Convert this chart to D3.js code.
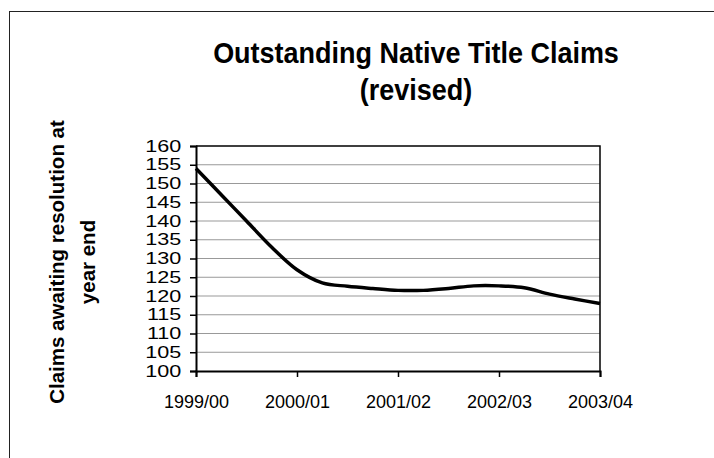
<!DOCTYPE html>
<html>
<head>
<meta charset="utf-8">
<script src="https://cdn.jsdelivr.net/npm/d3@7/dist/d3.min.js"></script>
<style>
  body { margin: 0; background: #fff; }
  svg text { font-family: "Liberation Sans", Arial, sans-serif; fill: #000; }
</style>
</head>
<body>
<div id="chart"></div>
<script>
// year labels on the category axis
const years = ["1999/00", "2000/01", "2001/02", "2002/03", "2003/04"];
const claims = [154, 147, 140, 133, 127, 123.5, 122.6, 122, 121.5, 121.5, 122, 122.7, 122.7, 122.2, 120.5, 119.2, 118];
const yTicks = [100, 105, 110, 115, 120, 125, 130, 135, 140, 145, 150, 155, 160];
const titleLines = ["Outstanding Native Title Claims", "(revised)"];
const yLabelLines = ["Claims awaiting resolution at", "year end"];

const width = 714, height = 458;
const plot = { left: 196, right: 600, top: 146, bottom: 371 };

const svg = d3.select("#chart").append("svg")
    .attr("width", width)
    .attr("height", height);

svg.append("rect")
    .attr("width", width).attr("height", height)
    .attr("fill", "#fff");

// chart area border (runs off the right and bottom edges)
svg.append("rect")
    .attr("x", 9.5).attr("y", 11.5)
    .attr("width", 740).attr("height", 480)
    .attr("fill", "none")
    .attr("stroke", "#222")
    .attr("stroke-width", 1);

const x = d3.scaleLinear()
    .domain([0, (years.length - 1) * 4])
    .range([plot.left, plot.right]);

const y = d3.scaleLinear()
    .domain([100, 160])
    .range([plot.bottom, plot.top]);

// gridlines
svg.append("g")
    .selectAll("line")
    .data(yTicks.slice(1, -1))
    .join("line")
    .attr("x1", plot.left).attr("x2", plot.right)
    .attr("y1", d => y(d)).attr("y2", d => y(d))
    .attr("stroke", "#999")
    .attr("stroke-width", 1);

// top and right frame of the plot
svg.append("path")
    .attr("d", `M${plot.left},${y(160)}H${plot.right}V${plot.bottom}`)
    .attr("fill", "none")
    .attr("stroke", "#000")
    .attr("stroke-width", 1.5);

// y axis
const yAxis = svg.append("g")
    .attr("transform", `translate(${plot.left},0)`)
    .call(d3.axisLeft(y).tickValues(yTicks).tickSize(6).tickPadding(8));
yAxis.select(".domain").attr("stroke-width", 2);
yAxis.selectAll(".tick line").attr("stroke-width", 1.5);
// labels are drawn wide in the original, so stretch them sideways
yAxis.selectAll(".tick text")
    .attr("font-size", 16)
    .attr("fill", "#000")
    .attr("transform", "translate(-14,0) scale(1.35,1)")
    .attr("x", -0.5);

// x axis
const xAxis = svg.append("g")
    .attr("transform", `translate(0,${plot.bottom})`)
    .call(d3.axisBottom(x)
        .tickValues(years.map((d, i) => i * 4))
        .tickFormat(d => years[d / 4])
        .tickSize(6).tickPadding(18));
xAxis.select(".domain").attr("stroke-width", 2);
xAxis.selectAll(".tick line").attr("stroke-width", 1.5);
xAxis.selectAll("text")
    .attr("font-size", 18)
    .attr("fill", "#000");

// the series
const line = d3.line()
    .x((d, i) => x(i))
    .y(d => y(d))
    .curve(d3.curveCatmullRom.alpha(0.5));

svg.append("path")
    .datum(claims)
    .attr("d", line)
    .attr("fill", "none")
    .attr("stroke", "#000")
    .attr("stroke-width", 3.5)
    .attr("stroke-linejoin", "round");

// title (slightly condensed, as in the original)
svg.append("g")
    .selectAll("text")
    .data(titleLines)
    .join("text")
    .attr("transform", (d, i) => `translate(416,${63 + i * 37}) scale(0.9,1)`)
    .attr("text-anchor", "middle")
    .attr("font-size", 30)
    .attr("font-weight", "bold")
    .text(d => d);

// y axis title, two rotated lines
svg.append("g")
    .selectAll("text")
    .data(yLabelLines)
    .join("text")
    .attr("transform", (d, i) => `translate(${63.5 + i * 31},262) rotate(-90)`)
    .attr("text-anchor", "middle")
    .attr("font-size", 20.5)
    .attr("font-weight", "bold")
    .text(d => d);
</script>
</body>
</html>
